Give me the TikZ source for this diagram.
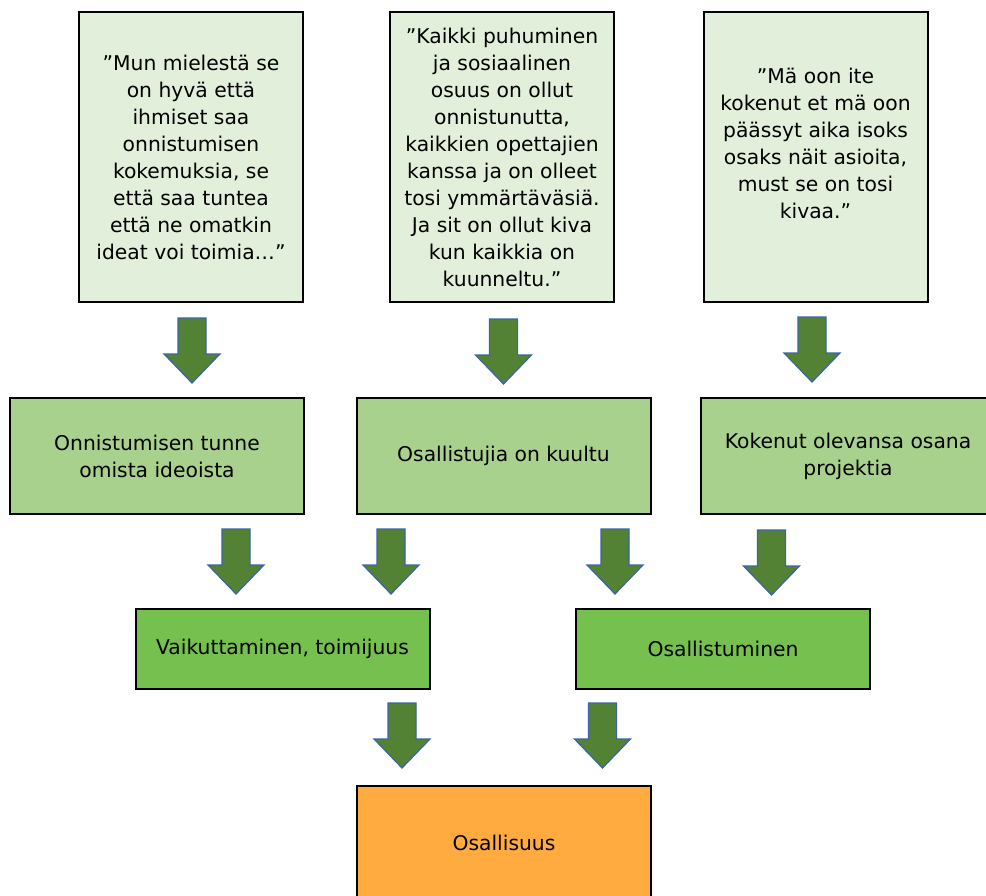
\documentclass[tikz,border=0pt]{standalone}
\usepackage{fontspec}
\setmainfont{DejaVu Sans}
\usepackage{xcolor}
\usetikzlibrary{positioning}
\definecolor{quotegreen}{HTML}{E2EFDA}
\definecolor{midgreen}{HTML}{A9D18E}
\definecolor{lowgreen}{HTML}{76C04F}
\definecolor{resultorange}{HTML}{FFAB40}
\definecolor{arrowgreen}{HTML}{548235}
\definecolor{arrowblue}{HTML}{3B64A8}

\begin{document}
\begin{tikzpicture}[x=1pt, y=-1pt,
    box/.style={draw=black, line width=2pt, inner sep=0pt, align=center,
        font=\fontsize{20.3}{27}\selectfont},
    quotebox/.style={box, fill=quotegreen, minimum width=224pt, minimum height=290pt},
    themebox/.style={box, fill=midgreen, minimum width=294pt, minimum height=116pt},
    lowbox/.style={box, fill=lowgreen, minimum width=294pt, minimum height=80pt},
    endbox/.style={box, fill=resultorange, minimum width=294pt, minimum height=114pt},
    down/.pic={\filldraw[fill=arrowgreen, draw=arrowblue, line width=1.2pt]
        (-14,0) -- (14,0) -- (14,36) -- (28,36) -- (0,65) -- (-28,36) -- (-14,36) -- cycle;}
]
    \useasboundingbox (0,0) rectangle (986,895);
    \clip (0,0) rectangle (986,895);

    % quotes
    \node[quotebox] (q1) at (191,157) {”Mun mielestä se\\on hyvä että\\ihmiset saa\\onnistumisen\\kokemuksia, se\\että saa tuntea\\että ne omatkin\\ideat voi toimia…”};
    \node[quotebox] (q2) at (502,157) {”Kaikki puhuminen\\ja sosiaalinen\\osuus on ollut\\onnistunutta,\\kaikkien opettajien\\kanssa ja on olleet\\tosi ymmärtäväsiä.\\Ja sit on ollut kiva\\kun kaikkia on\\kuunneltu.”};
    \node[quotebox] (q3) at (815.5,157) {”Mä oon ite\\kokenut et mä oon\\päässyt aika isoks\\osaks näit asioita,\\must se on tosi\\kivaa.”\\\mbox{}};

    % themes
    \node[themebox] (t1) at (157,456) {Onnistumisen tunne\\omista ideoista};
    \node[themebox] (t2) at (503.5,456) {Osallistujia on kuultu};
    \node[themebox] (t3) at (848,456) {Kokenut olevansa osana\\projektia};

    \node[lowbox] (v) at (282.5,649) {Vaikuttaminen, toimijuus};
    \node[lowbox] (o) at (723,649) {Osallistuminen};

    \node[endbox] (s) at (504,843) {Osallisuus};

    % arrows
    \pic at (192,318) {down};
    \pic at (503.5,319) {down};
    \pic at (812,317) {down};
    \pic at (236,529) {down};
    \pic at (391,529) {down};
    \pic at (615,529) {down};
    \pic at (771.5,530) {down};
    \pic at (402,703) {down};
    \pic at (602.5,703) {down};
\end{tikzpicture}
\end{document}
